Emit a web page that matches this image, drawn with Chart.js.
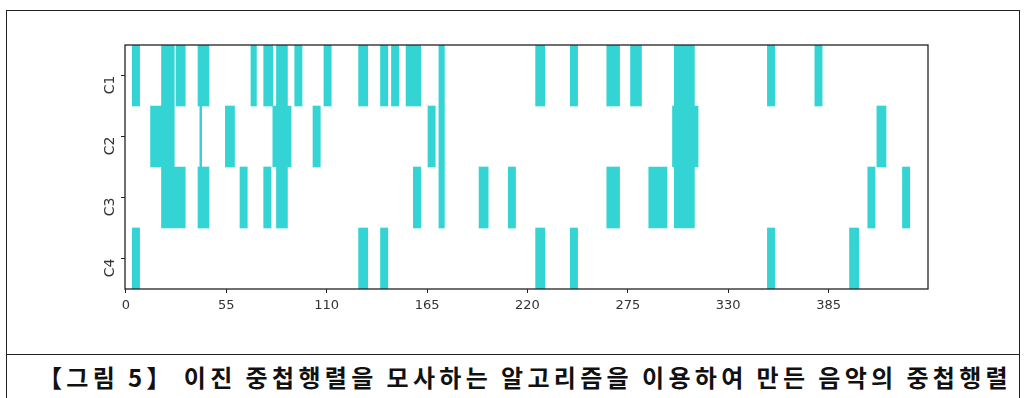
<!DOCTYPE html>
<html lang="ko">
<head>
<meta charset="utf-8">
<script src="https://cdn.jsdelivr.net/npm/chart.js@4.4.1/dist/chart.umd.min.js"></script>
<style>
  html, body { margin: 0; padding: 0; background: #fff; }
  #page { position: relative; width: 1026px; height: 398px; overflow: hidden; background: #fff; }
  #box { position: absolute; left: 6px; top: 10px; width: 1014px; height: 400px;
         border: 1px solid #222; box-sizing: border-box; }
  #sep { position: absolute; left: 6px; top: 354px; width: 1014px; height: 1px; background: #222; }
  #plot { position: absolute; left: 0; top: 0; width: 1026px; height: 354px; }
  #caption { position: absolute; left: 18px; top: 355px; width: 1014px; height: 43px;
             display: flex; align-items: center; justify-content: center;
             font-family: "Noto Sans CJK KR", sans-serif; font-weight: 700; font-size: 24px;
             color: #111; white-space: nowrap; letter-spacing: 4.3px; word-spacing: -2px; }
</style>
</head>
<body>
<div id="page">
  <div id="box"></div>
  <div id="sep"></div>
  <div id="plot"><canvas id="c" width="1026" height="354"></canvas></div>
  <div id="caption">【그림 5】 이진 중첩행렬을 모사하는 알고리즘을 이용하여 만든 음악의 중첩행렬</div>
</div>
<script>
// Rows of the overlap matrix and the column count
const rows = ['C1', 'C2', 'C3', 'C4'];
const columnCount = 440;
const xTicks = [0, 55, 110, 165, 220, 275, 330, 385];

// Active column runs per row: [first column, column after the last]
const runsC1 = [[4, 8], [20, 27], [28, 33], [40, 46], [69, 72], [76, 81], [83, 89], [93, 97],
                [109, 113], [128, 133], [140, 144], [146, 150], [154, 162], [172, 175],
                [225, 230], [244, 248], [264, 271], [277, 283], [301, 312], [352, 356], [378, 382]];
const runsC2 = [[14, 27], [41, 42], [55, 60], [81, 91], [103, 107], [166, 170], [172, 175],
                [300, 314], [412, 417]];
const runsC3 = [[20, 33], [40, 46], [63, 67], [76, 80], [83, 89], [158, 162], [172, 175],
                [194, 199], [210, 214], [264, 271], [287, 297], [301, 312], [407, 411], [426, 430]];
const runsC4 = [[4, 8], [128, 133], [140, 144], [225, 230], [244, 248], [352, 356], [397, 402]];

const runsByRow = [runsC1, runsC2, runsC3, runsC4];
const cellColor = '#34d4d4';

// One floating-bar dataset per run slot; each cell covers [col-0.5, col+0.5]
const slotCount = Math.max(...runsByRow.map(r => r.length));
const datasets = [];
for (let k = 0; k < slotCount; k++) {
  datasets.push({
    data: runsByRow.map(r => r[k] ? [r[k][0] - 0.5, r[k][1] - 0.5] : null),
    backgroundColor: cellColor,
    borderWidth: 0,
    grouped: false,
    barPercentage: 1,
    categoryPercentage: 1
  });
}

// Frame round the whole plot area
const frame = {
  id: 'frame',
  afterDatasetsDraw(chart) {
    const { ctx, chartArea: a } = chart;
    ctx.save();
    ctx.strokeStyle = '#222';
    ctx.lineWidth = 1.3;
    ctx.strokeRect(a.left, a.top, a.right - a.left, a.bottom - a.top);
    ctx.restore();
  }
};

new Chart(document.getElementById('c'), {
  type: 'bar',
  data: { labels: rows, datasets },
  options: {
    indexAxis: 'y',
    responsive: false,
    animation: false,
    layout: { padding: { left: 0, right: 98, top: 45, bottom: 0 } },
    plugins: { legend: { display: false }, tooltip: { enabled: false } },
    scales: {
      x: {
        type: 'linear',
        min: -0.5,
        max: columnCount - 0.5,
        afterBuildTicks(scale) { scale.ticks = xTicks.map(v => ({ value: v })); },
        afterFit(scale) { scale.height = 65; },
        grid: { display: true, drawOnChartArea: false, drawTicks: true, tickLength: 4, color: '#222' },
        border: { display: false },
        ticks: { color: '#333', font: { family: 'DejaVu Sans', size: 13 }, padding: 5, maxRotation: 0 }
      },
      y: {
        afterFit(scale) { scale.width = 125; },
        grid: { display: true, drawOnChartArea: false, drawTicks: true, tickLength: 4, color: '#222', offset: false },
        border: { display: false },
        ticks: { color: '#333', font: { family: 'DejaVu Sans', size: 14 }, padding: 11, minRotation: 90, maxRotation: 90 }
      }
    }
  },
  plugins: [frame]
});
</script>
</body>
</html>
